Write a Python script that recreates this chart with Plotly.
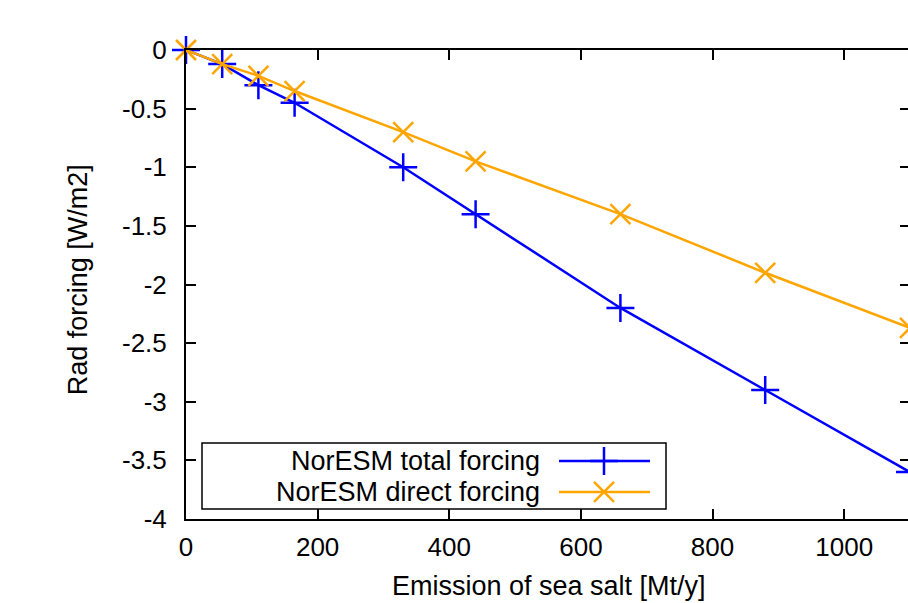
import plotly.graph_objects as go

# Data
emission = [0, 55, 110, 165, 330, 440, 660, 880, 1100]
total_forcing = [0, -0.12, -0.30, -0.45, -1.00, -1.40, -2.20, -2.90, -3.60]
direct_forcing = [0, -0.12, -0.22, -0.35, -0.70, -0.95, -1.40, -1.90, -2.37]
series_names = ["NorESM total forcing", "NorESM direct forcing"]
series_colors = ["#0000ff", "#ffa500"]
series_symbols = ["cross-thin", "x-thin"]
x_ticks = [0, 200, 400, 600, 800, 1000]
y_ticks = [0, -0.5, -1, -1.5, -2, -2.5, -3, -3.5, -4]
y_ticklabels = ["0", "-0.5", "-1", "-1.5", "-2", "-2.5", "-3", "-3.5", "-4"]

# figure is slightly wider than the window: its right frame falls just outside, as in the reference
W, H = 910, 603
L, T, B, R = 186, 50, 84, 0
FONT = "Liberation Sans, Arial, sans-serif"
FS = 27
TFS = 26

fig = go.Figure()
for ys, name, col, sym in zip([total_forcing, direct_forcing], series_names, series_colors, series_symbols):
    fig.add_trace(go.Scatter(
        x=emission, y=ys, mode="lines+markers", name=name,
        line=dict(color=col, width=2.5), cliponaxis=False,
        marker=dict(symbol=sym, size=20, color=col, line=dict(color=col, width=2.5)),
        showlegend=False,
    ))

# Custom legend (text left, sample right) on an overlay unit axis
pw = W - L - R
def px(v):
    return (v - L) / pw
box = dict(x0=px(202), x1=px(666), y0=0.0213, y1=0.162)
row_y = [0.1237, 0.0576]
text_right = px(542)
sample_x = [px(559), px(650)]
marker_x = px(604)

fig.add_shape(type="rect", xref="paper", yref="paper",
              x0=box["x0"], x1=box["x1"], y0=box["y0"], y1=box["y1"],
              line=dict(color="black", width=1.5), fillcolor="white", layer="below")
for name, col, sym, ry in zip(series_names, series_colors, series_symbols, row_y):
    fig.add_trace(go.Scatter(
        x=sample_x, y=[ry, ry], xaxis="x2", yaxis="y2", mode="lines",
        line=dict(color=col, width=2.5), showlegend=False, hoverinfo="skip"))
    fig.add_trace(go.Scatter(
        x=[marker_x], y=[ry], xaxis="x2", yaxis="y2", mode="markers",
        marker=dict(symbol=sym, size=20, color=col, line=dict(color=col, width=2.5)),
        showlegend=False, hoverinfo="skip"))
    fig.add_annotation(text=name, xref="paper", yref="paper", x=text_right, y=ry,
                       xanchor="right", yanchor="middle", showarrow=False,
                       font=dict(family=FONT, size=FS, color="black"))

# Axis titles
fig.add_annotation(text="Emission of sea salt [Mt/y]", xref="paper", yref="paper",
                   x=px(549), y=-0.1429, xanchor="center", yanchor="middle",
                   showarrow=False, font=dict(family=FONT, size=FS, color="black"))
fig.add_annotation(text="Rad forcing [W/m2]", xref="paper", yref="paper",
                   x=px(77.5), y=0.51, xanchor="center", yanchor="middle", textangle=-90,
                   showarrow=False, font=dict(family=FONT, size=FS, color="black"))

axis_common = dict(showgrid=False, zeroline=False, ticks="inside", ticklen=10,
                   tickwidth=1.5, tickcolor="black",
                   tickfont=dict(family=FONT, size=TFS, color="black"))

fig.update_layout(
    width=W, height=H,
    margin=dict(l=L, r=R, t=T, b=B, pad=0),
    plot_bgcolor="white", paper_bgcolor="white",
    xaxis=dict(range=[0, 1100], tickvals=x_ticks, ticktext=[str(v) for v in x_ticks],
               showline=True, linecolor="black", linewidth=2, mirror="ticks",
               ticklabelstandoff=4, **axis_common),
    yaxis=dict(range=[-4, 0], tickvals=y_ticks, ticktext=y_ticklabels,
               showline=True, linecolor="black", linewidth=2,
               ticklabelstandoff=12, **axis_common),
    yaxis3=dict(range=[-4, 0], tickvals=y_ticks, overlaying="y", side="right",
                showticklabels=False, showline=False, anchor="x", **axis_common),
    xaxis2=dict(range=[0, 1], overlaying="x", visible=False, fixedrange=True),
    yaxis2=dict(range=[0, 1], overlaying="y", visible=False, fixedrange=True),
    font=dict(family=FONT, size=FS, color="black"),
)
# dummy trace to activate right-side ticks axis
fig.add_trace(go.Scatter(x=[None], y=[None], yaxis="y3", showlegend=False, hoverinfo="skip"))

fig.write_html("out.html", config={"displayModeBar": False},
               post_script="document.body.style.margin='0';document.body.style.overflow='hidden';")
